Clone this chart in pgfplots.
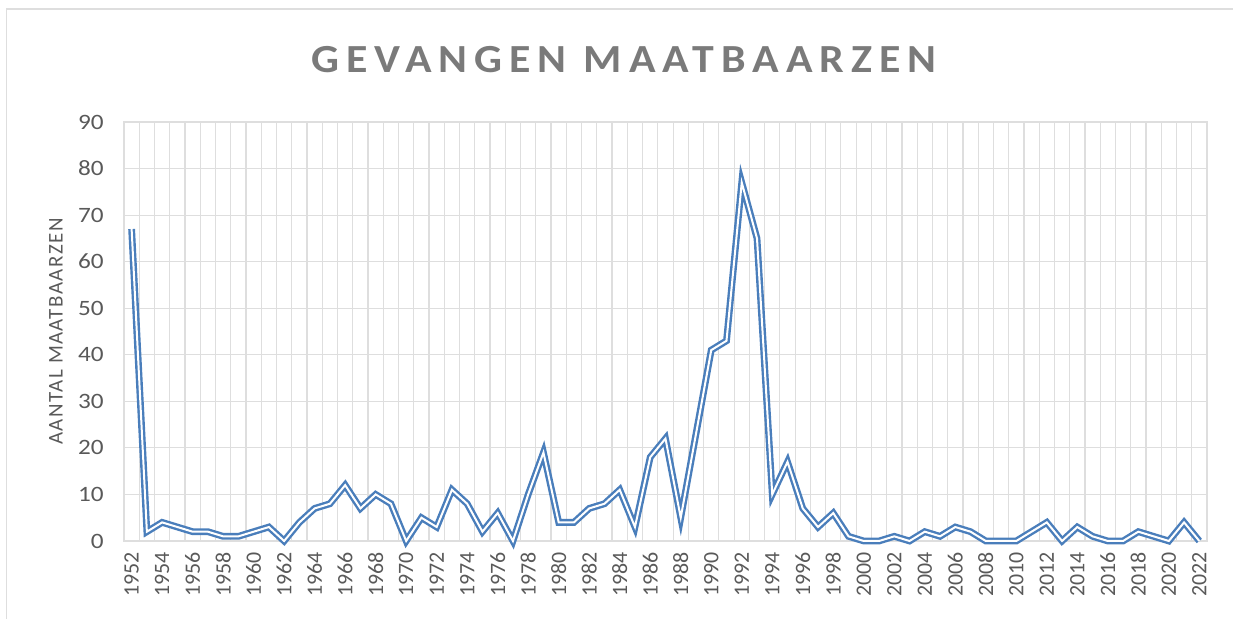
\documentclass[border=0pt]{standalone}
\usepackage{fontspec}
\setmainfont{Carlito}
\usepackage{pgfplots}
\pgfplotsset{compat=1.18}
\definecolor{lineblue}{HTML}{4A7EBB}
\definecolor{gridgray}{HTML}{DEDEDE}
\definecolor{textgray}{HTML}{595959}
\definecolor{titlegray}{HTML}{7A7A7A}

\pgfplotstableread{
year value
1952 67
1953 2
1954 4
1955 3
1956 2
1957 2
1958 1
1959 1
1960 2
1961 3
1962 0
1963 4
1964 7
1965 8
1966 12
1967 7
1968 10
1969 8
1970 0
1971 5
1972 3
1973 11
1974 8
1975 2
1976 6
1977 0
1978 10
1979 19
1980 4
1981 4
1982 7
1983 8
1984 11
1985 3
1986 18
1987 22
1988 5
1989 23
1990 41
1991 43
1992 77
1993 65
1994 10
1995 17
1996 7
1997 3
1998 6
1999 1
2000 0
2001 0
2002 1
2003 0
2004 2
2005 1
2006 3
2007 2
2008 0
2009 0
2010 0
2011 2
2012 4
2013 0
2014 3
2015 1
2016 0
2017 0
2018 2
2019 1
2020 0
2021 4
2022 0
}\datatable

\begin{document}
\begin{tikzpicture}[x=1bp,y=1bp]
\path[use as bounding box] (-124,-78) rectangle (1109,541);
\draw[gridgray, line width=1.2bp] (-117.5,-80) -- (-117.5,532) -- (1112,532);
\begin{axis}[
  at={(0,0)}, anchor=south west,
  scale only axis, width=1083bp, height=419bp,
  xmin=1951.5, xmax=2022.5, ymin=0, ymax=90,
  xtick={1952,1954,...,2022},
  minor xtick={1951.5,1952.5,...,2022.5},
  ytick={0,10,...,90},
  xmajorgrids=false, xminorgrids=true, ymajorgrids=true,
  grid style={gridgray, line width=1.2bp},
  minor grid style={gridgray, line width=1.2bp},
  axis line style={gridgray, line width=1.2bp},
  major tick length=0pt, minor tick length=0pt,
  tick style={draw=none},
  clip=false,
  /pgf/number format/assume math mode=true,
  xticklabel={\pgfmathprintnumber[1000 sep={}]{\tick}},
  xticklabel style={rotate=90, anchor=east, inner sep=0pt, text=textgray,
    font=\fontsize{22}{22}\selectfont},
  xticklabel shift=11bp,
  yticklabel style={anchor=east, inner sep=0pt, text=textgray, xscale=1.15,
    font=\fontsize{22}{22}\selectfont},
  yticklabel shift=20bp,
]
\addplot[lineblue, line width=2.4bp, double=white, double distance=2bp, mark=none]
  table[x=year, y=value] {\datatable};
\end{axis}
\node[text=titlegray, xscale=1.1, font=\fontsize{40}{40}\bfseries\selectfont\addfontfeature{LetterSpace=16}] at (500,481) {GEVANGEN MAATBAARZEN};
\node[rotate=90, text=textgray, font=\fontsize{21}{21}\selectfont\addfontfeature{LetterSpace=7}] at (-68,209.5) {AANTAL MAATBAARZEN};
\end{tikzpicture}
\end{document}
